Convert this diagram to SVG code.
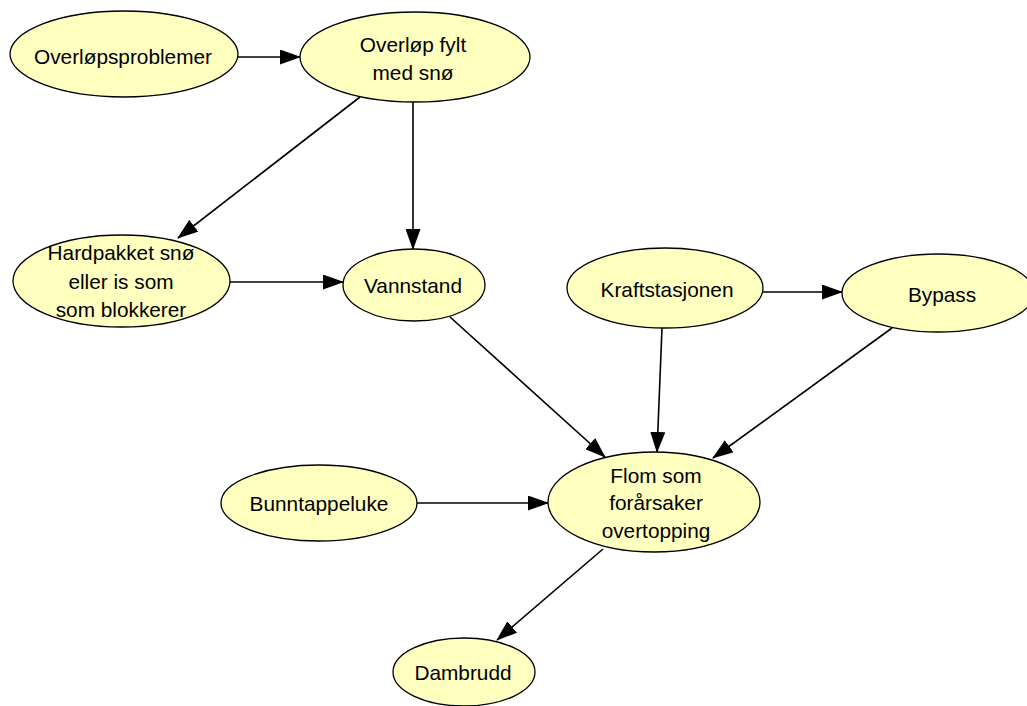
<svg xmlns="http://www.w3.org/2000/svg" width="1027" height="706" viewBox="0 0 1027 706">
<style>
.node ellipse{fill:#ffffc0;stroke:#000;stroke-width:1.3}
.node text{font-family:"Liberation Sans",Arial,sans-serif;font-size:20.8px;fill:#000;text-anchor:middle}
.edges line{stroke:#000;stroke-width:1.6;marker-end:url(#arr)}
</style>
<defs>
<marker id="arr" markerUnits="userSpaceOnUse" markerWidth="21" markerHeight="15" refX="20" refY="7.5" orient="auto">
<path d="M0,0 L21,7.5 L0,15 z" fill="#000"/>
</marker>
</defs>
<rect width="1027" height="706" fill="#fff"/>
<g class="edges">
<line x1="238" y1="57" x2="300" y2="57"/>
<line x1="360" y1="97" x2="178" y2="238"/>
<line x1="413" y1="102" x2="413" y2="249"/>
<line x1="230" y1="282" x2="343" y2="282"/>
<line x1="450" y1="317" x2="605" y2="457"/>
<line x1="662" y1="328" x2="657" y2="452"/>
<line x1="763" y1="292" x2="842" y2="292"/>
<line x1="892" y1="328" x2="713" y2="458"/>
<line x1="417" y1="503" x2="548" y2="503"/>
<line x1="603" y1="549" x2="497" y2="640"/>
</g>
<g id="overlopsproblemer" class="node"><ellipse cx="124" cy="54" rx="114" ry="43"/><text x="123" y="64">Overløpsproblemer</text></g>
<g id="overlop-fylt" class="node"><ellipse cx="415" cy="57" rx="115" ry="45"/><text x="413" y="52">Overløp fylt</text><text x="413" y="80">med snø</text></g>
<g id="hardpakket" class="node"><ellipse cx="121.5" cy="281" rx="108.5" ry="46"/><text x="121" y="260">Hardpakket snø</text><text x="121" y="289">eller is som</text><text x="121" y="317">som blokkerer</text></g>
<g id="vannstand" class="node"><ellipse cx="414" cy="285" rx="71" ry="36"/><text x="413" y="293">Vannstand</text></g>
<g id="kraftstasjonen" class="node"><ellipse cx="665" cy="288" rx="98" ry="40"/><text x="667" y="297">Kraftstasjonen</text></g>
<g id="bypass" class="node"><ellipse cx="938" cy="293" rx="96" ry="39"/><text x="942" y="302">Bypass</text></g>
<g id="bunntappeluke" class="node"><ellipse cx="319" cy="503" rx="98" ry="38"/><text x="319" y="511">Bunntappeluke</text></g>
<g id="flom" class="node"><ellipse cx="654" cy="502" rx="106" ry="50"/><text x="656" y="483">Flom som</text><text x="656" y="510">forårsaker</text><text x="656" y="538">overtopping</text></g>
<g id="dambrudd" class="node"><ellipse cx="464" cy="672" rx="71" ry="34"/><text x="463" y="680">Dambrudd</text></g>
</svg>
